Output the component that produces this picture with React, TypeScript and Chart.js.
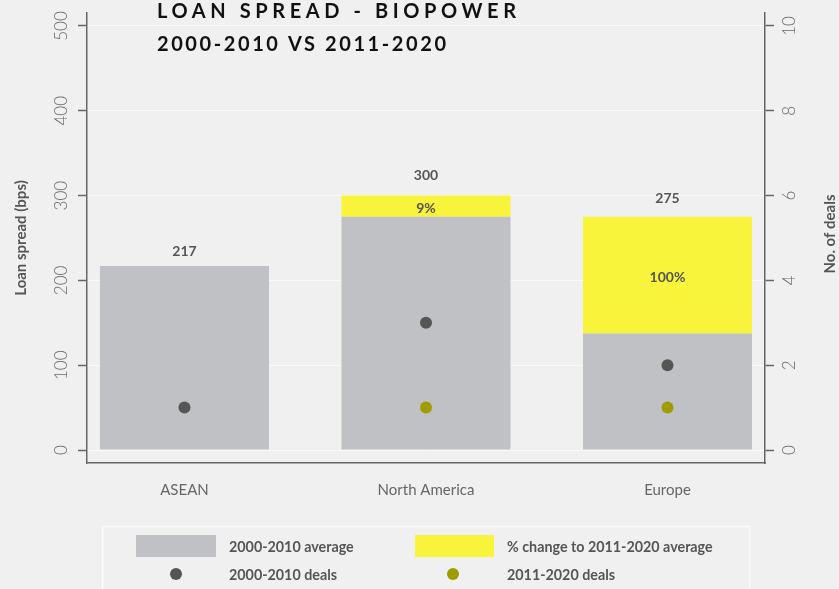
import React, { useEffect, useRef } from 'react';
import { Chart, registerables } from 'chart.js';

Chart.register(...registerables);

// ---- data ----
const categories = ['ASEAN', 'North America', 'Europe'];
const avg2000 = [217, 275, 137.5];
const avg2011: (number | null)[] = [null, 300, 275];
const pctLabels = ['', '9%', '100%'];
const deals2000: (number | null)[] = [1, 3, 2];
const deals2011: (number | null)[] = [null, 1, 1];
const leftTicks = [0, 100, 200, 300, 400, 500];
const rightTicks = [0, 2, 4, 6, 8, 10];
const titleLines = ['LOAN SPREAD - BIOPOWER', '2000-2010 VS 2011-2020'];
const seriesLabels = ['2000-2010 average', '% change to 2011-2020 average', '2000-2010 deals', '2011-2020 deals'];
const leftTitle = 'Loan spread (bps)';
const rightTitle = 'No. of deals';

// ---- styles ----
const GREY = '#c0c1c4';
const YELLOW = '#f8f43c';
const DARK = '#555555';
const OLIVE = '#a09b00';
const BG = '#f0f0f0';
const AXIS = '#666666';
const FONT = 'Lato, "Open Sans", sans-serif';

const decor = {
  id: 'decor',
  beforeDraw(chart: any) {
    const ctx = chart.ctx;
    ctx.save();
    ctx.fillStyle = BG;
    ctx.fillRect(0, 0, chart.width, chart.height);
    ctx.restore();
  },
  afterDatasetsDraw(chart: any) {
    const ctx = chart.ctx;
    const yScale = chart.scales.y;
    const metaBase = chart.getDatasetMeta(0);
    const metaTop = chart.getDatasetMeta(1);
    ctx.save();
    ctx.fillStyle = DARK;
    ctx.font = `bold 14px ${FONT}`;
    ctx.textAlign = 'center';
    ctx.textBaseline = 'middle';
    categories.forEach((_, i) => {
      const total = avg2011[i] ?? avg2000[i];
      const x = metaBase.data[i].x;
      ctx.fillText(String(total), x, yScale.getPixelForValue(total * 1.08));
      if (pctLabels[i] && avg2011[i] != null) {
        const el = metaTop.data[i];
        ctx.fillText(pctLabels[i], el.x, (el.y + el.base) / 2 + 2);
      }
    });
    ctx.restore();
  },
  afterDraw(chart: any) {
    const ctx = chart.ctx;
    const area = chart.chartArea;
    const yScale = chart.scales.y;
    const y2Scale = chart.scales.y2;
    ctx.save();

    // title
    ctx.fillStyle = '#111111';
    ctx.font = `bold 20px ${FONT}`;
    ctx.textAlign = 'left';
    ctx.textBaseline = 'middle';
    const targets = [359, 289];
    const ys = [11.5, 44.5];
    titleLines.forEach((t, k) => {
      (ctx as any).letterSpacing = '0px';
      const w0 = ctx.measureText(t).width;
      const sp = (targets[k] - w0) / (t.length - 1);
      (ctx as any).letterSpacing = `${sp}px`;
      ctx.fillText(t, 157, ys[k]);
    });
    (ctx as any).letterSpacing = '0px';

    // rotated tick labels
    ctx.fillStyle = '#6a6a6a';
    ctx.font = `300 17px ${FONT}`;
    ctx.textAlign = 'center';
    ctx.textBaseline = 'middle';
    leftTicks.forEach((v) => {
      ctx.save();
      ctx.translate(area.left - 25, yScale.getPixelForValue(v));
      ctx.rotate(-Math.PI / 2);
      ctx.fillText(String(v), 0, 0);
      ctx.restore();
    });
    rightTicks.forEach((v) => {
      ctx.save();
      ctx.translate(area.right + 25, y2Scale.getPixelForValue(v));
      ctx.rotate(-Math.PI / 2);
      ctx.fillText(String(v), 0, 0);
      ctx.restore();
    });

    // axis titles
    ctx.fillStyle = DARK;
    ctx.font = `bold 15px ${FONT}`;
    const midY = (area.top + area.bottom) / 2;
    ctx.save();
    ctx.translate(21, midY);
    ctx.rotate(-Math.PI / 2);
    ctx.fillText(leftTitle, 0, 0);
    ctx.restore();
    ctx.save();
    ctx.translate(830, midY - 4);
    ctx.rotate(-Math.PI / 2);
    ctx.fillText(rightTitle, 0, 0);
    ctx.restore();

    // legend
    ctx.strokeStyle = '#fafafa';
    ctx.lineWidth = 1.5;
    ctx.strokeRect(102.5, 526.5, 647, 80);
    ctx.fillStyle = GREY;
    ctx.fillRect(136, 535, 80, 22);
    ctx.fillStyle = YELLOW;
    ctx.fillRect(415, 535, 79, 22);
    ctx.fillStyle = DARK;
    ctx.beginPath();
    ctx.arc(176, 574, 6, 0, Math.PI * 2);
    ctx.fill();
    ctx.fillStyle = OLIVE;
    ctx.beginPath();
    ctx.arc(453, 574, 6, 0, Math.PI * 2);
    ctx.fill();
    ctx.fillStyle = DARK;
    ctx.font = `bold 14.3px ${FONT}`;
    ctx.textAlign = 'left';
    ctx.textBaseline = 'middle';
    ctx.fillText(seriesLabels[0], 229, 547);
    ctx.fillText(seriesLabels[1], 507, 547);
    ctx.fillText(seriesLabels[2], 229, 575);
    ctx.fillText(seriesLabels[3], 507, 575);

    ctx.restore();
  },
};

export default function App() {
  const ref = useRef<HTMLCanvasElement | null>(null);

  useEffect(() => {
    if (!ref.current) return;
    const pos = categories.map((_, i) => i + 1);
    const chart = new Chart(ref.current, {
      type: 'bar',
      data: {
        datasets: [
          {
            type: 'bar',
            label: seriesLabels[0],
            data: pos.map((x, i) => ({ x, y: avg2000[i] })),
            backgroundColor: GREY,
            stack: 's',
            order: 2,
            yAxisID: 'y',
            categoryPercentage: 1,
            barPercentage: 0.7,
          },
          {
            type: 'bar',
            label: seriesLabels[1],
            data: pos.map((x, i) => ({ x, y: avg2011[i] == null ? null : (avg2011[i] as number) - avg2000[i] })),
            backgroundColor: YELLOW,
            stack: 's',
            order: 2,
            yAxisID: 'y',
            categoryPercentage: 1,
            barPercentage: 0.7,
          },
          {
            type: 'line',
            label: seriesLabels[2],
            data: pos.map((x, i) => ({ x, y: deals2000[i] })),
            showLine: false,
            pointRadius: 6,
            pointBackgroundColor: DARK,
            pointBorderWidth: 0,
            borderColor: DARK,
            yAxisID: 'y2',
            order: 0,
          },
          {
            type: 'line',
            label: seriesLabels[3],
            data: pos.map((x, i) => ({ x, y: deals2011[i] })),
            showLine: false,
            pointRadius: 6,
            pointBackgroundColor: OLIVE,
            pointBorderWidth: 0,
            borderColor: OLIVE,
            yAxisID: 'y2',
            order: 0,
          },
        ] as any,
      },
      options: {
        animation: false,
        responsive: true,
        maintainAspectRatio: false,
        devicePixelRatio: 1,
        layout: { padding: { top: 13, left: 0, right: 0, bottom: 0 } },
        plugins: { legend: { display: false }, tooltip: { enabled: false }, title: { display: false } },
        scales: {
          x: {
            type: 'linear',
            position: 'bottom',
            stacked: true,
            offset: false,
            min: 0.5963,
            max: 3.4037,
            afterBuildTicks: (s: any) => {
              s.ticks = pos.map((v) => ({ value: v }));
            },
            afterFit: (s: any) => {
              s.height = 126;
            },
            grid: { display: false, offset: false },
            border: { display: true, color: AXIS, width: 1.5 },
            ticks: {
              callback: (v: any) => categories[Math.round(Number(v)) - 1] ?? '',
              color: '#666666',
              font: { family: FONT, size: 15 },
              padding: 10,
              maxRotation: 0,
              autoSkip: false,
            },
          },
          y: {
            type: 'linear',
            position: 'left',
            stacked: true,
            min: -15.33,
            max: 515.33,
            afterBuildTicks: (s: any) => {
              s.ticks = leftTicks.map((v) => ({ value: v }));
            },
            afterFit: (s: any) => {
              s.width = 87;
            },
            grid: {
              color: '#fafafa',
              lineWidth: 1,
              drawTicks: true,
              tickLength: 9,
              tickColor: AXIS,
              tickWidth: 1.5,
            },
            border: { display: true, color: AXIS, width: 1.5 },
            ticks: { display: false },
          },
          y2: {
            type: 'linear',
            position: 'right',
            min: -0.3066,
            max: 10.3066,
            afterBuildTicks: (s: any) => {
              s.ticks = rightTicks.map((v) => ({ value: v }));
            },
            afterFit: (s: any) => {
              s.width = 74;
            },
            grid: {
              drawOnChartArea: false,
              drawTicks: true,
              tickLength: 9,
              tickColor: AXIS,
              tickWidth: 1.5,
            },
            border: { display: true, color: AXIS, width: 1.5 },
            ticks: { display: false },
          },
        },
      } as any,
      plugins: [decor],
    });
    return () => chart.destroy();
  }, []);

  return (
    <div style={{ position: 'fixed', left: 0, top: 0, width: 839, height: 589, background: BG }}>
      <canvas ref={ref} />
    </div>
  );
}
